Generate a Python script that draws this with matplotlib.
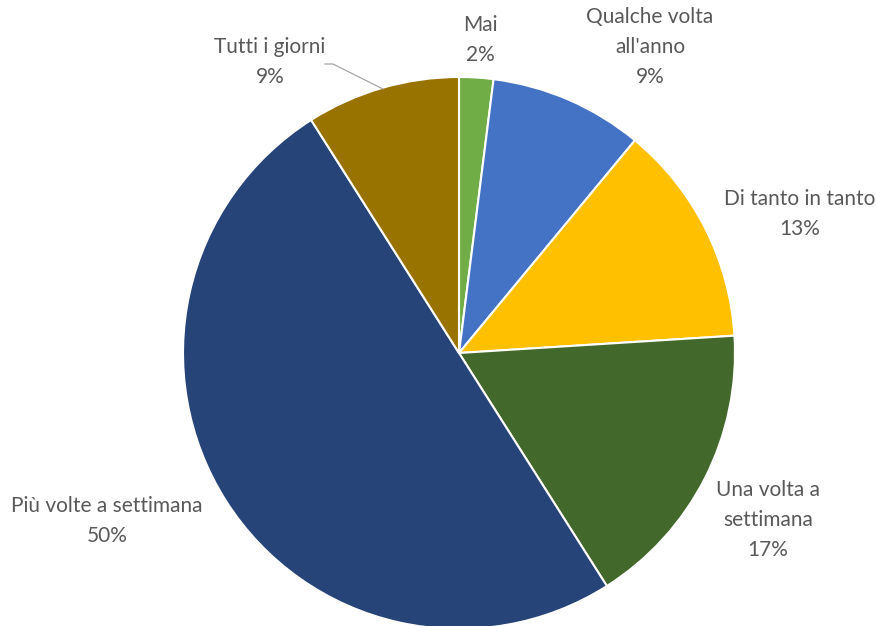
import matplotlib
matplotlib.use("Agg")
import matplotlib.pyplot as plt

categories = ["Mai", "Qualche volta\nall'anno", "Di tanto in tanto",
              "Una volta a\nsettimana", "Più volte a settimana", "Tutti i giorni"]
values = [2, 9, 13, 17, 50, 9]
colors = ["#70AD47", "#4472C4", "#FFC000", "#43682B", "#264478", "#997300"]

W, H = 878, 626
fig = plt.figure(figsize=(W / 100, H / 100), dpi=100)
ax = fig.add_axes([0, 0, 1, 1])

cx, cy, r = 459, H - 353, 276
ax.pie(values, colors=colors, startangle=90, counterclock=False,
       center=(cx, cy), radius=r,
       wedgeprops=dict(edgecolor="white", linewidth=1.5))
ax.set_xlim(0, W)
ax.set_ylim(0, H)
ax.set_aspect("equal")
ax.axis("off")

# label anchor points (pixel coordinates, y measured from top)
label_pos = [(480, 40), (650, 47), (800, 214), (768, 520), (107, 521), (270, 62)]
font = dict(family=["Lato", "DejaVu Sans"], size=15, color="#595959")
for name, val, (x, y) in zip(categories, values, label_pos):
    ax.text(x, H - y, f"{name}\n{val}%", ha="center", va="center",
            linespacing=1.65, **font)

# leader line for the small top-left slice
ax.plot([325, 333, 383], [H - 64, H - 64, H - 89], color="#A6A6A6", lw=0.9)

fig.savefig("out.png", dpi=100)
